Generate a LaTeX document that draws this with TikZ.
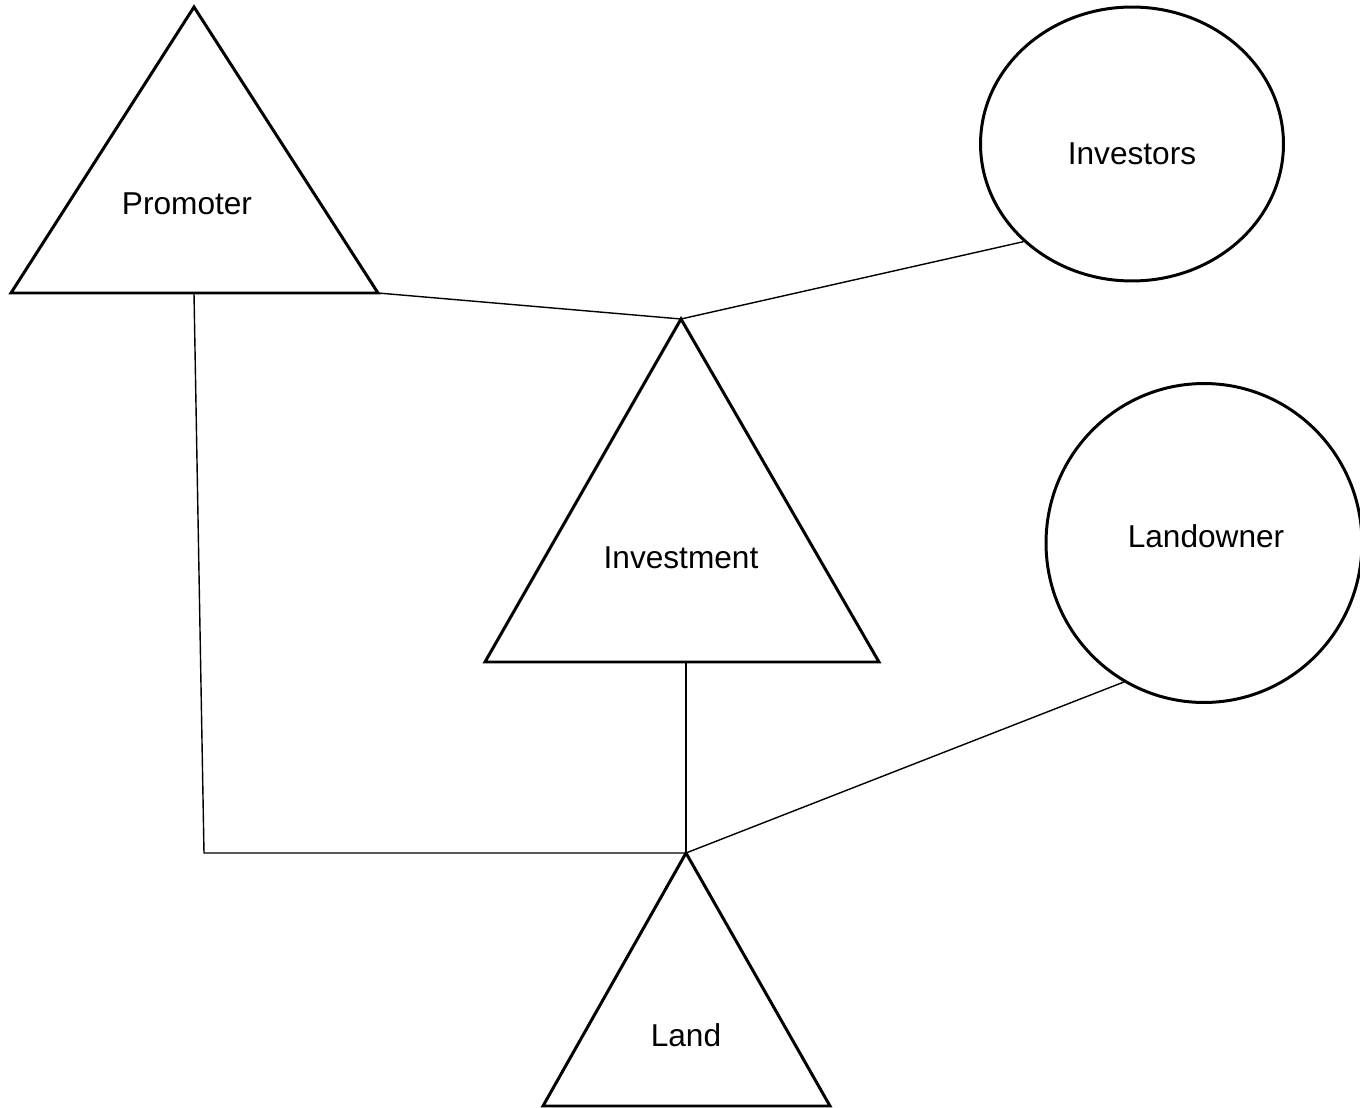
\documentclass[tikz,border=0pt]{standalone}
\usepackage{fontspec}
\setmainfont{Liberation Sans}
\usepackage{tikz}
\usetikzlibrary{shapes.geometric}

\begin{document}
\begin{tikzpicture}[x=0.02cm, y=-0.02cm]
    \tikzstyle{outline} = [line width=1.7pt, line join=miter]
    \tikzstyle{party} = [draw, ellipse, line width=1.7pt, inner sep=0pt]
    \tikzstyle{link} = [line width=0.8pt]
    \tikzstyle{tag} = [font=\fontsize{18}{22}\selectfont, text centered]
    \useasboundingbox (0,0) rectangle (1360,1108);
    % triangle corners
    \coordinate (promoter top) at (194,7);
    \coordinate (promoter left) at (11,293);
    \coordinate (promoter right) at (378,293);
    \coordinate (promoter base) at (194,293);
    \coordinate (investment top) at (681,319);
    \coordinate (investment left) at (485,662);
    \coordinate (investment right) at (879,662);
    \coordinate (investment base) at (686,662);
    \coordinate (land top) at (686,853);
    \coordinate (land left) at (543,1106);
    \coordinate (land right) at (830,1106);
    \coordinate (corner) at (204,853);
    \draw[outline] (promoter top) -- (promoter left) -- (promoter right) -- cycle;
    \draw[outline] (investment top) -- (investment left) -- (investment right) -- cycle;
    \draw[outline] (land top) -- (land left) -- (land right) -- cycle;
    \node [tag] at (187,204) (promoter) {Promoter};
    \node [tag] at (681,558) (investment) {Investment};
    \node [tag] at (686,1035) (land) {Land};
    % circles
    \node [party, minimum width=6.06cm, minimum height=5.48cm] at (1132,144) (investors) {};
    \node [party, minimum width=6.32cm, minimum height=6.38cm] at (1204,543) (landowner) {};
    \node [tag] at (1132,154) (investors text) {Investors};
    \node [tag] at (1206,536) (landowner text) {Landowner};
    % links
    \draw[link] (promoter right) -- (investment top);
    \draw[link] (investment top) -- (investors.222);
    \draw[link] (promoter base) -- (corner) -- (land top);
    \draw[link] (investment base) -- (land top);
    \draw[link] (land top) -- (landowner.240);
\end{tikzpicture}
\end{document}
